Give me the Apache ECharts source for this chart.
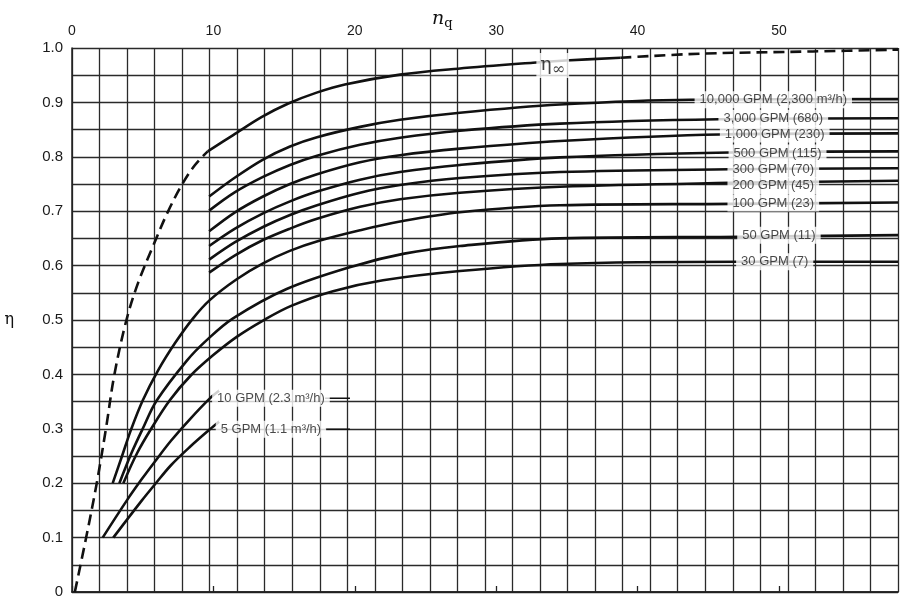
<!DOCTYPE html>
<html><head><meta charset="utf-8">
<script src="https://cdn.jsdelivr.net/npm/echarts@6/dist/echarts.min.js"></script>
<style>html,body{margin:0;padding:0;background:#fff}#c{width:919px;height:613px}</style>
</head><body><div id="c"></div>
<script>
// ---- axis data ----
const xTickStep = 10;          // n_q labels 0,10,...,50
const xMax = 58.42;            // n_q at right border
const gridCols = 30;           // chart paper columns
const yMax = 1.0;
const yStep = 0.05;

// ---- eta_inf envelope ----
const etaInfDashLow = [[0.2,0],[1.0,0.1],[1.75,0.2],[2.4,0.3],[3.0,0.4],[3.85,0.5],[4.7,0.57],[5.8,0.64],[6.8,0.70],[7.85,0.752],[8.7,0.785],[9.6,0.81]];
const etaInfSolid = [[9.6,0.81],[11.4,0.84],[13.4,0.873],[15.3,0.898],[17.3,0.918],[19.3,0.933],[23.2,0.951],[27.3,0.962],[32.6,0.973],[34.9,0.977],[38.8,0.982]];
const etaInfDashHigh = [[38.8,0.982],[44.4,0.9895],[52.4,0.9937],[58.42,0.997]];

// ---- flow-rate curves (n_q, eta) ----
const gpm10000 = [[9.7,0.727],[11.53,0.762],[13.51,0.795],[15.42,0.819],[17.33,0.836],[20.37,0.855],[23.2,0.868],[27.44,0.881],[34.51,0.896],[43.7,0.905],[58.42,0.906]];
const gpm3000 = [[9.7,0.701],[11.53,0.735],[13.51,0.763],[15.42,0.785],[17.33,0.802],[20.37,0.822],[23.2,0.835],[27.44,0.848],[34.51,0.861],[45.7,0.869],[58.42,0.871]];
const gpm1000 = [[9.7,0.663],[11.53,0.698],[13.51,0.727],[15.42,0.75],[17.33,0.768],[20.37,0.79],[23.2,0.803],[27.44,0.815],[34.51,0.829],[45.8,0.841],[58.42,0.843]];
const gpm500 = [[9.7,0.636],[11.53,0.668],[13.51,0.696],[15.42,0.718],[17.33,0.736],[20.37,0.758],[23.2,0.772],[27.44,0.785],[34.51,0.799],[46.5,0.808],[58.42,0.81]];
const gpm300 = [[9.7,0.611],[11.53,0.643],[13.51,0.671],[15.42,0.693],[17.33,0.711],[20.37,0.734],[23.2,0.748],[27.44,0.761],[34.51,0.772],[46.5,0.777],[58.42,0.779]];
const gpm200 = [[9.7,0.587],[11.53,0.619],[13.51,0.647],[15.42,0.668],[17.33,0.686],[20.37,0.708],[23.2,0.722],[27.44,0.734],[34.51,0.745],[46.5,0.752],[58.42,0.756]];
const gpm100 = [[2.88,0.2],[3.54,0.25],[4.17,0.298],[5.0,0.352],[6.08,0.407],[7.3,0.458],[8.56,0.503],[9.76,0.537],[11.65,0.575],[13.51,0.604],[15.4,0.627],[17.54,0.646],[20.37,0.665],[23.2,0.681],[27.44,0.698],[34.51,0.711],[46.68,0.7135],[58.42,0.716]];
const gpm50 = [[3.35,0.2],[4.2,0.255],[5.0,0.30],[5.99,0.352],[8.11,0.425],[9.53,0.463],[11.39,0.503],[15.18,0.557],[19.9,0.599],[23.5,0.622],[27.44,0.636],[34.51,0.650],[47.24,0.653],[58.42,0.656]];
const gpm30 = [[3.63,0.2],[4.6,0.255],[5.6,0.30],[6.93,0.353],[8.4,0.398],[9.97,0.435],[11.65,0.469],[13.51,0.499],[15.5,0.526],[18.46,0.553],[22.0,0.573],[27.44,0.59],[34.51,0.603],[47.24,0.607],[58.42,0.607]];
const gpm10 = [[2.17,0.1],[3.87,0.168],[4.95,0.208],[5.87,0.24],[7.0,0.278],[8.35,0.318],[9.75,0.356],[10.4,0.37]];
const gpm5 = [[2.92,0.1],[4.93,0.168],[5.87,0.198],[7.0,0.233],[8.35,0.267],[9.75,0.299],[10.4,0.313]];
// short leader strokes to the right of the two small-flow labels
const leader10 = [[17.9,0.356],[19.66,0.356]];
const leader5 = [[17.9,0.299],[19.66,0.299]];

const curves = [gpm10000,gpm3000,gpm1000,gpm500,gpm300,gpm200,gpm100,gpm50,gpm30,gpm10,gpm5];

// ---- curve labels ----
const labelText = ['10,000 GPM (2,300 m³/h)','3,000 GPM (680)','1,000 GPM (230)','500 GPM (115)','300 GPM (70)','200 GPM (45)','100 GPM (23)','50 GPM (11)','30 GPM (7)','10 GPM (2.3 m³/h)','5 GPM (1.1 m³/h)'];
const labelNq = [49.6,49.6,49.7,49.9,49.6,49.6,49.6,50.0,49.7,14.07,14.07];
const labelEta = [0.905,0.871,0.842,0.807,0.776,0.747,0.715,0.656,0.607,0.356,0.299];
const etaInfLabelPos = [34.0,0.968];

const INK = '#111';
const series = [];
const lineBase = {type:'line', symbol:'none', xAxisIndex:0, yAxisIndex:0, z:3, silent:true, smooth:0.35};
series.push(Object.assign({}, lineBase, {data: etaInfDashLow, lineStyle:{color:INK,width:2.6,type:[11,6]}}));
series.push(Object.assign({}, lineBase, {data: etaInfSolid, lineStyle:{color:INK,width:2.6}}));
series.push(Object.assign({}, lineBase, {data: etaInfDashHigh, lineStyle:{color:INK,width:2.6,type:[11,6]}}));
curves.forEach(d => series.push(Object.assign({}, lineBase, {data:d, lineStyle:{color:INK,width:2.6}})));
[leader10, leader5].forEach(d => series.push(Object.assign({}, lineBase, {smooth:false, data:d, lineStyle:{color:INK,width:1.5}})));

series.push({
  type:'scatter', xAxisIndex:0, yAxisIndex:0, z:10, silent:true,
  symbolSize:1, itemStyle:{color:'rgba(0,0,0,0)'},
  data: labelNq.map((x,i)=>({value:[x,labelEta[i]], label:{formatter: labelText[i]}})),
  label:{show:true, position:'inside', color:'#1a1a1a', fontSize:13, fontFamily:'Liberation Sans, Arial, sans-serif',
         backgroundColor:'#fff', padding:[2,5]}
});
series.push({
  type:'scatter', xAxisIndex:0, yAxisIndex:0, z:10, silent:true,
  symbolSize:1, itemStyle:{color:'rgba(0,0,0,0)'},
  data:[{value:etaInfLabelPos}],
  label:{show:true, position:'inside', formatter:'{e|η}{s|∞}', backgroundColor:'#fff', padding:[0,4],
    rich:{e:{fontFamily:'DejaVu Serif, serif', fontSize:19, color:'#111'},
          s:{fontFamily:'DejaVu Serif, serif', fontSize:16, color:'#111', padding:[9,0,0,0]}}}
});

const chart = echarts.init(document.getElementById('c'), null, {renderer:'canvas'});
chart.setOption({
  animation:false,
  backgroundColor:'#fff',
  title:{text:'{n|n}{q|q}', left:427, top:3,
    textStyle:{fontWeight:'normal', rich:{n:{fontFamily:'DejaVu Serif, serif', fontStyle:'italic', fontWeight:'normal', fontSize:19, color:'#111'},
                     q:{fontFamily:'DejaVu Serif, serif', fontWeight:'normal', fontSize:13, color:'#111', padding:[9,0,0,0]}}}},
  grid:{left:72, top:48, right:21, bottom:21, containLabel:false},
  xAxis:[
    {type:'value', position:'top', min:0, max:xMax, interval:xTickStep,
     axisLine:{show:true, lineStyle:{color:'#222', width:1.5}},
     axisTick:{show:true, inside:false, length:6, lineStyle:{color:'#222', width:1.3}},
     axisLabel:{show:true, color:'#1a1a1a', fontSize:14, margin:10, fontFamily:'Liberation Sans, Arial, sans-serif',
       showMaxLabel:false},
     splitLine:{show:false}},
    {type:'value', position:'bottom', min:0, max:gridCols, interval:1,
     axisLine:{show:true, lineStyle:{color:'#222', width:1.5}},
     axisTick:{show:false}, axisLabel:{show:false},
     splitLine:{show:true, showMinLine:true, showMaxLine:true, lineStyle:{color:'#2a2a2a', width:1.3}}}
  ],
  yAxis:{type:'value', min:0, max:yMax, interval:yStep,
     name:'η', nameLocation:'middle', nameGap:58, nameRotate:0,
     nameTextStyle:{fontFamily:'DejaVu Serif, serif', fontSize:16, color:'#111'},
     axisLine:{show:true, lineStyle:{color:'#222', width:1.5}},
     axisTick:{show:false},
     axisLabel:{color:'#1a1a1a', fontSize:15, margin:9, fontFamily:'Liberation Sans, Arial, sans-serif',
       formatter: v => { const k = Math.round(v*20); if (k%2) return ''; if (k===0) return '0'; return (k/20).toFixed(1); }},
     splitLine:{show:true, showMinLine:true, showMaxLine:true, lineStyle:{color:'#2a2a2a', width:1.3}}},
  series: series
});
</script>
</body></html>
